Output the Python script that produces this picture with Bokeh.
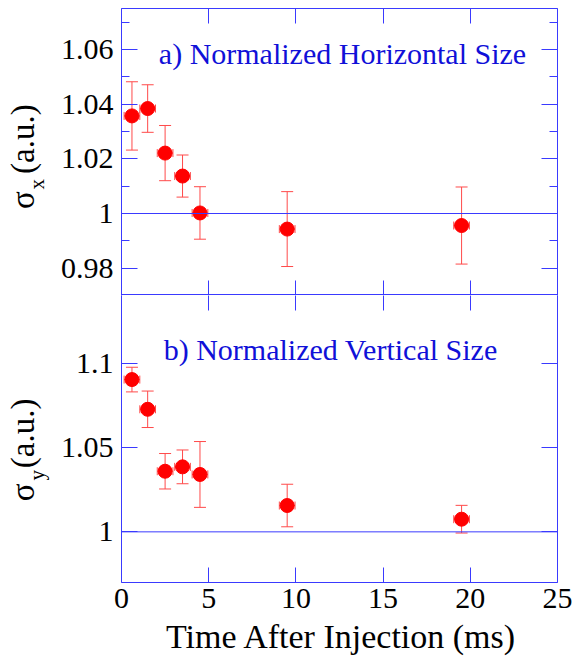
import math
from bokeh.plotting import figure
from bokeh.models import (Range1d, LinearAxis, FixedTicker, CustomJSTickFormatter,
                          Whisker, TeeHead, ColumnDataSource, Label, Span)
from bokeh.core.properties import value
from bokeh.layouts import column, row
from bokeh.embed import file_html
from bokeh.resources import INLINE

# ---- data ----
time_ms = [0.6, 1.5, 2.5, 3.5, 4.5, 9.5, 19.5]
time_err = [0.45, 0.45, 0.45, 0.45, 0.45, 0.45, 0.45]
sigma_x = [1.0357, 1.0384, 1.0221, 1.0137, 1.0002, 0.9943, 0.9956]
sigma_x_err = [0.0125, 0.0087, 0.0101, 0.0077, 0.0096, 0.0137, 0.0141]
sigma_y = [1.0902, 1.0726, 1.0359, 1.0385, 1.0340, 1.0156, 1.0075]
sigma_y_err = [0.0073, 0.0108, 0.0105, 0.0100, 0.0195, 0.0126, 0.0082]

x_ticks = [0, 5, 10, 15, 20, 25]
top_major = [0.98, 1.0, 1.02, 1.04, 1.06]
top_minor = [0.97, 0.99, 1.01, 1.03, 1.05, 1.07]
bot_major = [1.0, 1.05, 1.1]

BLUE_LINE = "#3a3aff"
BLUE_TEXT = "#1010d8"
RED = "#ff0000"
RED_ERR = "#ff4a4a"
FONT = "Liberation Serif"

fmt = CustomJSTickFormatter(code="return (Math.round(tick*1000)/1000).toString();")
blank = CustomJSTickFormatter(code="return '';")

LEFT_W = 55
P2_BOTTOM = 42
OVERLAP = 12


def make_fig(y_lo, y_hi, top, bottom, outline=True):
    p = figure(frame_width=436, frame_height=287,
               min_border_left=121 - LEFT_W, min_border_right=26,
               min_border_top=top, min_border_bottom=bottom,
               x_range=Range1d(0, 25), y_range=Range1d(y_lo, y_hi),
               output_backend="svg", toolbar_location=None)
    p.xgrid.visible = False
    p.ygrid.visible = False
    p.outline_line_color = BLUE_LINE if outline else None
    p.outline_line_width = 1
    p.background_fill_color = "white"
    p.border_fill_color = "white"
    return p


def style_axis(ax, ticker, labels, tick_len, line=False):
    ax.ticker = ticker
    ax.axis_line_color = BLUE_LINE if line else None
    ax.major_tick_in = tick_len
    ax.major_tick_out = 0
    ax.minor_tick_in = tick_len // 2
    ax.minor_tick_out = 0
    ax.major_tick_line_color = BLUE_LINE
    ax.minor_tick_line_color = BLUE_LINE
    ax.major_label_text_font = FONT
    ax.major_label_text_color = "black"
    ax.major_label_text_font_size = "30px"
    if labels:
        ax.formatter = fmt
    else:
        ax.formatter = blank
        ax.major_label_standoff = 0


def add_data(p, y, yerr):
    src = ColumnDataSource(dict(
        t=time_ms, y=y,
        yu=[a + b for a, b in zip(y, yerr)], yl=[a - b for a, b in zip(y, yerr)],
        tu=[a + b for a, b in zip(time_ms, time_err)], tl=[a - b for a, b in zip(time_ms, time_err)],
    ))
    p.add_layout(Span(location=1.0, dimension="width", line_color=BLUE_LINE, line_width=1))
    p.add_layout(Whisker(source=src, base="t", upper="yu", lower="yl", dimension="height",
                         line_color=RED_ERR, line_width=1,
                         upper_head=TeeHead(size=12, line_color=RED_ERR, line_width=1),
                         lower_head=TeeHead(size=12, line_color=RED_ERR, line_width=1)))
    p.add_layout(Whisker(source=src, base="y", upper="tu", lower="tl", dimension="width",
                         line_color=RED_ERR, line_width=1,
                         upper_head=TeeHead(size=8, line_color=RED_ERR, line_width=1),
                         lower_head=TeeHead(size=8, line_color=RED_ERR, line_width=1)))
    p.scatter("t", "y", source=src, size=14, color=RED, line_color=RED)


def strip(width, height):
    f = figure(width=width, height=height, x_range=Range1d(0, width), y_range=Range1d(0, height),
               x_axis_location=None, y_axis_location=None,
               min_border_left=0, min_border_right=0, min_border_top=0, min_border_bottom=0,
               output_backend="svg", toolbar_location=None)
    f.xgrid.visible = False
    f.ygrid.visible = False
    f.outline_line_color = None
    return f


def label_fig(height, sub, y_sigma, y_sub, y_par):
    # a narrow text-only strip holding the rotated y-axis title (sigma with subscript)
    f = strip(LEFT_W, height)
    common = dict(angle=math.pi / 2, text_font=value(FONT), text_color="black",
                  text_align="left", text_baseline="alphabetic")
    f.text(x=[22, 22], y=[y_sigma, y_par], text=["σ", "(a.u.)"], text_font_size="33px", **common)
    f.text(x=[36], y=[y_sub], text=[sub], text_font_size="21px", **common)
    return f


# ---- top panel ----
p1 = make_fig(0.97, 1.075, 8, 0)
style_axis(p1.xaxis[0], FixedTicker(ticks=x_ticks), False, 15)
style_axis(p1.yaxis[0], FixedTicker(ticks=top_major, minor_ticks=top_minor), True, 16)
p1.yaxis[0].major_label_standoff = 8
ax = LinearAxis(); style_axis(ax, FixedTicker(ticks=x_ticks), False, 15); p1.add_layout(ax, "above")
ax = LinearAxis(); style_axis(ax, FixedTicker(ticks=top_major, minor_ticks=top_minor), False, 16); p1.add_layout(ax, "right")
add_data(p1, sigma_x, sigma_x_err)
p1.add_layout(Label(x=2.14, y=1.0586, text="a) Normalized Horizontal Size", text_font=FONT,
                    text_font_size="30px", text_color=BLUE_TEXT, text_baseline="alphabetic"))
l1 = label_fig(295, "x", 89, 109, 125)

# ---- bottom panel (its top edge is the top panel's bottom outline) ----
p2 = make_fig(0.97, 1.14, 0, P2_BOTTOM, outline=False)
style_axis(p2.xaxis[0], FixedTicker(ticks=x_ticks), True, 15, line=True)
p2.xaxis[0].major_label_standoff = 6
style_axis(p2.yaxis[0], FixedTicker(ticks=bot_major, minor_ticks=[]), True, 16, line=True)
p2.yaxis[0].major_label_standoff = 8
ax = LinearAxis(); style_axis(ax, FixedTicker(ticks=x_ticks), False, 15); p2.add_layout(ax, "above")
ax = LinearAxis(); style_axis(ax, FixedTicker(ticks=bot_major, minor_ticks=[]), False, 16, line=True); p2.add_layout(ax, "right")
add_data(p2, sigma_y, sigma_y_err)
p2.add_layout(Label(x=2.42, y=1.108, text="b) Normalized Vertical Size", text_font=FONT,
                    text_font_size="30px", text_color=BLUE_TEXT, text_baseline="alphabetic"))
l2 = label_fig(287 + P2_BOTTOM, "y", 93, 117, 131)

# ---- x-axis title strip (transparent, tucked slightly under the tick-label band) ----
XSTRIP_H = 658 - 295 - 287 - P2_BOTTOM + OVERLAP
xl = strip(583, XSTRIP_H)
xl.background_fill_color = None
xl.border_fill_color = None
xl.margin = (-OVERLAP, 0, 0, 0)
xl.text(x=[341], y=[22], text=["Time After Injection (ms)"], text_font=value(FONT),
        text_font_size="34px", text_color="black", text_align="center", text_baseline="alphabetic")

layout = column(row(l1, p1, spacing=0), row(l2, p2, spacing=0), xl, spacing=0)
open("out.html", "w").write(file_html(layout, INLINE))
